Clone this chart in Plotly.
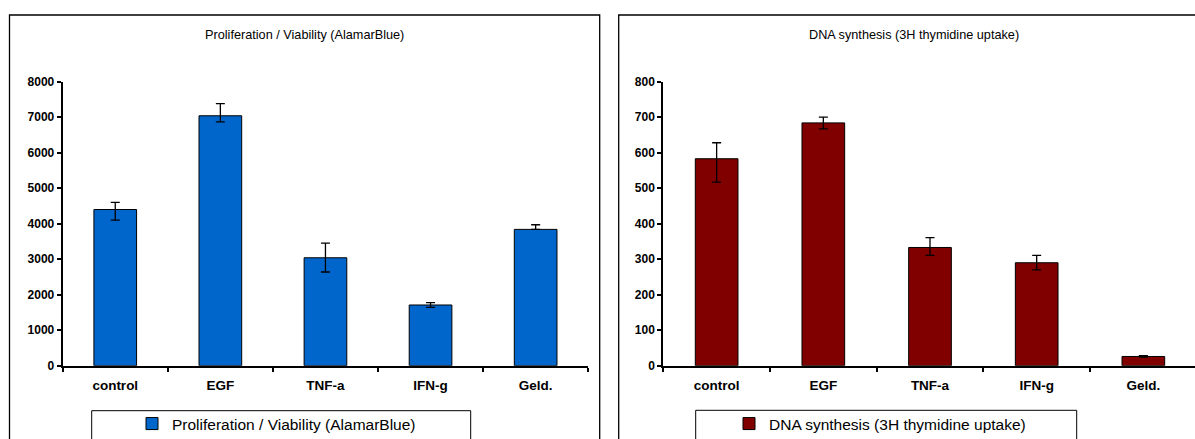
import plotly.graph_objects as go

# ---- data ----
categories = ["control", "EGF", "TNF-a", "IFN-g", "Geld."]

alamar_values = [4400, 7040, 3040, 1710, 3840]
alamar_err_plus = [200, 340, 410, 65, 130]
alamar_err_minus = [300, 170, 400, 65, 0]

thymidine_values = [583, 684, 333, 290, 26]
thymidine_err_plus = [45, 16, 28, 21, 2]
thymidine_err_minus = [66, 17, 22, 20, 2]

title_left = "Proliferation / Viability (AlamarBlue)"
title_right = "DNA synthesis (3H thymidine uptake)"

W, H = 1195, 439
FONT = "Liberation Sans, Arial, sans-serif"


def px(x):
    return x / W


def py(y):
    return 1 - y / H


fig = go.Figure()

fig.add_trace(go.Bar(
    x=categories, y=alamar_values, name=title_left,
    width=0.406,
    marker=dict(color="#0066CC", line=dict(color="black", width=1)),
    error_y=dict(type="data", symmetric=False, array=alamar_err_plus,
                 arrayminus=alamar_err_minus, color="black", thickness=1.3, width=4.5),
    xaxis="x", yaxis="y", legend="legend", showlegend=True,
))

fig.add_trace(go.Bar(
    x=categories, y=thymidine_values, name=title_right,
    width=0.4,
    marker=dict(color="#800000", line=dict(color="black", width=1)),
    error_y=dict(type="data", symmetric=False, array=thymidine_err_plus,
                 arrayminus=thymidine_err_minus, color="black", thickness=1.3, width=4.5),
    xaxis="x2", yaxis="y2", legend="legend2", showlegend=True,
))

xcommon = dict(type="category", showline=True, linecolor="black", linewidth=2,
               ticks="outside", tickson="boundaries", ticklen=4, tickwidth=1.5,
               tickcolor="black", showgrid=False, zeroline=False,
               tickfont=dict(family=FONT, size=13.5, color="black", weight="bold"),
               ticklabelstandoff=6, fixedrange=True)
ycommon = dict(showline=True, linecolor="black", linewidth=2, ticks="outside",
               ticklen=4, tickwidth=1.5, tickcolor="black", showgrid=False,
               zeroline=False, tickfont=dict(family=FONT, size=12, color="black", weight="bold"),
               fixedrange=True)

legend_common = dict(xanchor="left", yanchor="middle", bgcolor="rgba(0,0,0,0)",
                     borderwidth=0, font=dict(family=FONT, size=15.5, color="black"))

fig.update_layout(
    width=W, height=H,
    margin=dict(l=0, r=0, t=0, b=0, autoexpand=False),
    paper_bgcolor="white", plot_bgcolor="white",
    font=dict(family=FONT, color="black"),
    showlegend=True,
    xaxis=dict(xcommon, domain=[px(62.7), px(588.2)], range=[-0.5, 4.5], anchor="y"),
    yaxis=dict(ycommon, domain=[py(365.7), py(81.7)], range=[0, 8000], dtick=1000, anchor="x"),
    xaxis2=dict(xcommon, domain=[px(663.3), 1.0], range=[-0.5, 4.484], anchor="y2"),
    yaxis2=dict(ycommon, domain=[py(365.7), py(81.7)], range=[0, 800], dtick=100, anchor="x2"),
    legend=dict(legend_common, x=px(132), y=py(424)),
    legend2=dict(legend_common, x=px(729), y=py(424)),
    shapes=[
        dict(type="rect", xref="paper", yref="paper", x0=px(9.5), x1=px(599.7),
             y0=-0.2, y1=py(15), line=dict(color="black", width=1.3)),
        dict(type="rect", xref="paper", yref="paper", x0=px(618.7), x1=1.1,
             y0=-0.2, y1=py(15), line=dict(color="black", width=1.3)),
        dict(type="rect", xref="paper", yref="paper", x0=px(91.7), x1=px(470.7),
             y0=-0.2, y1=py(410.7), line=dict(color="black", width=1)),
        dict(type="rect", xref="paper", yref="paper", x0=px(695.7), x1=px(1076.7),
             y0=-0.2, y1=py(410.3), line=dict(color="black", width=1)),
    ],
    annotations=[
        dict(text=title_left, xref="paper", yref="paper", x=px(304.6), y=py(35),
             xanchor="center", yanchor="middle", showarrow=False,
             font=dict(family=FONT, size=12.7, color="black")),
        dict(text=title_right, xref="paper", yref="paper", x=px(914), y=py(35),
             xanchor="center", yanchor="middle", showarrow=False,
             font=dict(family=FONT, size=12.7, color="black")),
    ],
)

fig.write_html(
    "out.html",
    config={"displayModeBar": False},
    post_script="document.body.style.margin='0';document.documentElement.style.overflow='hidden';",
)
